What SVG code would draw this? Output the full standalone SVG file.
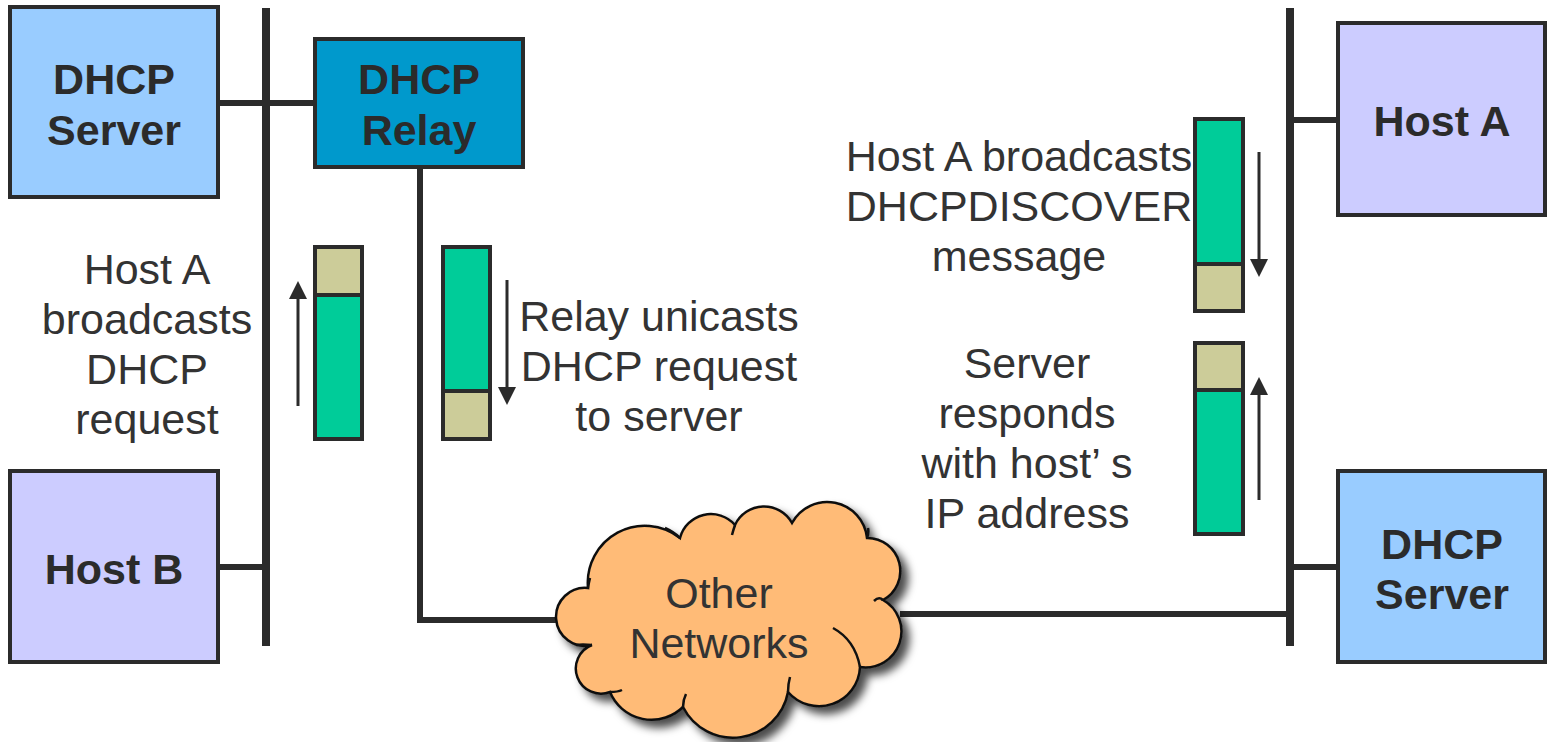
<svg xmlns="http://www.w3.org/2000/svg" width="1547" height="742" viewBox="0 0 1547 742">
<style>
.box{stroke:#2b2b2b;stroke-width:4}
.srv{fill:#99ccff}
.host{fill:#ccccff}
.relay{fill:#0099cc}
.bus{stroke:#2b2b2b;stroke-width:8;fill:none}
.wire{stroke:#2b2b2b;stroke-width:6;fill:none}
.green{fill:#00cc99;stroke:#2b2b2b;stroke-width:4}
.tan{fill:#cccc99;stroke:#2b2b2b;stroke-width:4}
.arr{stroke:#2b2b2b;stroke-width:3;fill:none}
.bold{font-family:"Liberation Sans",Arial,sans-serif;font-weight:bold;font-size:43px;fill:#2b2b2b;text-anchor:middle}
.lbl{font-family:"Liberation Sans",Arial,sans-serif;font-size:43px;fill:#333333;text-anchor:middle}
</style>
<defs>
<marker id="ah" markerWidth="6" markerHeight="6" refX="3" refY="3" orient="auto" markerUnits="strokeWidth">
<path d="M0,0 L6,3 L0,6 Z" fill="#2b2b2b"/>
</marker>
<filter id="sh" x="-10%" y="-10%" width="130%" height="130%">
<feDropShadow dx="7" dy="7" stdDeviation="4" flood-color="#000" flood-opacity="0.7"/>
</filter>
</defs>
<g id="connectors">
<line class="bus" x1="266" y1="8" x2="266" y2="646"/>
<line class="bus" x1="1290" y1="8" x2="1290" y2="646"/>
<line class="wire" x1="218" y1="103" x2="315" y2="103"/>
<line class="wire" x1="218" y1="567" x2="266" y2="567"/>
<polyline class="wire" points="420,167 420,620 558,620"/>
<line class="wire" x1="900" y1="614" x2="1290" y2="614"/>
<line class="wire" x1="1290" y1="120" x2="1338" y2="120"/>
<line class="wire" x1="1290" y1="567" x2="1338" y2="567"/>
<line class="arr" x1="298" y1="406" x2="298" y2="290" marker-end="url(#ah)"/>
<line class="arr" x1="507" y1="280" x2="507" y2="396" marker-end="url(#ah)"/>
<line class="arr" x1="1259" y1="152" x2="1259" y2="268" marker-end="url(#ah)"/>
<line class="arr" x1="1259" y1="500" x2="1259" y2="386" marker-end="url(#ah)"/>
</g>
<g id="dhcp-server-left">
<rect class="box srv" x="10" y="7" width="208" height="190"/>
<text class="bold" x="114" y="94">DHCP</text>
<text class="bold" x="114" y="145">Server</text>
</g>
<g id="dhcp-relay">
<rect class="box relay" x="315" y="39" width="208" height="128"/>
<text class="bold" x="419" y="94">DHCP</text>
<text class="bold" x="419" y="145">Relay</text>
</g>
<g id="host-b">
<rect class="box host" x="10" y="471" width="208" height="191"/>
<text class="bold" x="114" y="584">Host B</text>
</g>
<g id="host-a">
<rect class="box host" x="1338" y="23" width="207" height="192"/>
<text class="bold" x="1442" y="136">Host A</text>
</g>
<g id="dhcp-server-right">
<rect class="box srv" x="1338" y="471" width="207" height="191"/>
<text class="bold" x="1442" y="559">DHCP</text>
<text class="bold" x="1442" y="609">Server</text>
</g>
<g id="packet-1">
<rect class="green" x="315" y="295" width="47" height="144"/>
<rect class="tan" x="315" y="247" width="47" height="48"/>
</g>
<g id="packet-2">
<rect class="green" x="443" y="247" width="47" height="144"/>
<rect class="tan" x="443" y="391" width="47" height="48"/>
</g>
<g id="packet-3">
<rect class="green" x="1195" y="119" width="48" height="145"/>
<rect class="tan" x="1195" y="264" width="48" height="47"/>
</g>
<g id="packet-4">
<rect class="green" x="1195" y="390" width="48" height="144"/>
<rect class="tan" x="1195" y="343" width="48" height="47"/>
</g>
<g id="other-networks">
<path filter="url(#sh)" fill="#ffbb77" stroke="#111" stroke-width="2.5" d="M592,645 A29,29 0 1 1 588,588 A57,57 0 0 1 680,538 A32,32 0 0 1 735,525 A32,32 0 0 1 792,523 A40,40 0 0 1 867,538 A33,33 0 0 1 883,600 A36,36 0 0 1 860,667 A41,41 0 0 1 788,692 A56,56 0 0 1 683,707 A45,45 0 0 1 610,692 A25,25 0 0 1 592,645 Z"/>
<path fill="none" stroke="#111" stroke-width="2.5" d="M592,645 Q582,644 576,645 M588,588 Q589,582 590,578 M680,538 Q674,532 665,528 M735,525 Q733,531 732,535 M867,538 Q869,533 868,528 M883,600 Q879,596 874,601 M833,628 Q855,640 860,667 M788,692 Q788,684 790,677 M683,707 Q683,700 686,694 M610,692 Q618,692 622,690"/>
<text class="lbl" x="719" y="608">Other</text>
<text class="lbl" x="719" y="658">Networks</text>
</g>
<g id="labels">
<text class="lbl" x="147" y="284">Host A</text>
<text class="lbl" x="147" y="334">broadcasts</text>
<text class="lbl" x="147" y="384">DHCP</text>
<text class="lbl" x="147" y="434">request</text>
<text class="lbl" x="659" y="331">Relay unicasts</text>
<text class="lbl" x="659" y="381">DHCP request</text>
<text class="lbl" x="659" y="431">to server</text>
<text class="lbl" x="1019" y="171">Host A broadcasts</text>
<text class="lbl" x="1019" y="221">DHCPDISCOVER</text>
<text class="lbl" x="1019" y="271">message</text>
<text class="lbl" x="1027" y="378">Server</text>
<text class="lbl" x="1027" y="428">responds</text>
<text class="lbl" x="1027" y="478">with host’ s</text>
<text class="lbl" x="1027" y="528">IP address</text>
</g>
</svg>
